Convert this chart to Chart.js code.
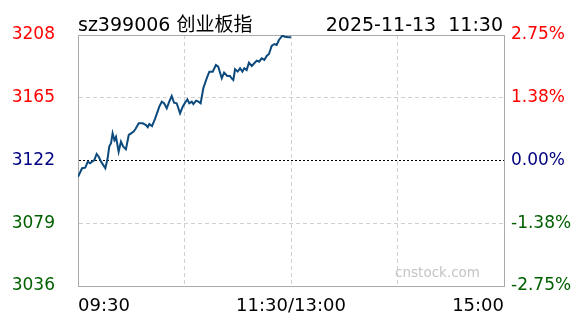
<!DOCTYPE html>
<html>
<head>
<meta charset="utf-8">
<script src="https://cdn.jsdelivr.net/npm/chart.js@4/dist/chart.umd.min.js"></script>
<style>
  html, body { margin: 0; padding: 0; background: #fff; }
  #box { width: 588px; height: 324px; }
</style>
</head>
<body>
<div id="box"><canvas id="Trend"></canvas></div>
<script>
var Minutes = [0, 2.3, 4.1, 5.5, 6.8, 7.9, 9.2, 10.5, 11.7, 13, 15.4, 16.7, 17.6, 18.6, 19.5, 20.5, 21.4, 22.9,
	24.2, 25.5, 27, 28.6, 29.9, 31.2, 32.3, 34.2, 36.5, 38.3, 39.3, 40.2, 41.7, 43.5, 45.8, 47.2, 48.5, 50,
	51.4, 52.8, 54.1, 55.6, 57.5, 59, 60.3, 61.6, 62.7, 64.1, 65, 66.5, 67.8, 69.1, 70.6, 72.5, 74, 75.9,
	77.7, 79, 81, 82.3, 84.1, 85.6, 86.6, 87.5, 88.5, 90, 91.3, 92.6, 93.7, 95, 96.3, 97.9, 99.3, 100.7,
	102, 103.5, 105, 106.3, 107.6, 109.1, 110.6, 111.9, 113.2, 115.1, 116.6, 118.5, 120];
var Prices = [3110.9, 3116.7, 3117.1, 3121.2, 3120.1, 3121.2, 3122.3, 3126.5, 3124.6, 3121.2, 3116.7, 3123.5,
	3131.5, 3133.8, 3140.6, 3136.0, 3138.3, 3128.0, 3134.9, 3131.5, 3129.7, 3139.5, 3140.6, 3141.7, 3143.4,
	3147.5, 3147.5, 3146.3, 3144.8, 3147.0, 3145.6, 3150.9, 3158.9, 3162.3, 3161.2, 3157.8, 3162.3, 3166.2,
	3161.6, 3161.2, 3154.3, 3158.9, 3161.6, 3163.9, 3161.2, 3162.3, 3160.7, 3163.0, 3162.3, 3161.2, 3171.5,
	3178.3, 3182.9, 3182.9, 3187.4, 3186.3, 3178.3, 3182.2, 3179.9, 3179.9, 3178.3, 3177.2, 3184.5, 3182.9,
	3185.2, 3182.9, 3185.2, 3184.0, 3189.0, 3186.8, 3188.6, 3190.4, 3189.7, 3192.0, 3190.9, 3193.6, 3195.0,
	3200.5, 3201.8, 3201.2, 3204.6, 3207.5, 3206.8, 3206.4, 3206.4];
var PriceTicks = [3036, 3079, 3122, 3165, 3208];
var PctLabels = ["-2.75%", "-1.38%", "0.00%", "1.38%", "2.75%"];
var TimeTicks = [0, 60, 120, 180, 240];
var TimeLabels = ["09:30", "", "11:30/13:00", "", "15:00"];
var TitleLeft = "sz399006 创业板指";
var TitleRight = "2025-11-13  11:30";
var Mark = "cnstock.com";

var FONT = "'DejaVu Sans', 'Noto Sans CJK SC', sans-serif";
var tickColors = ["#006000", "#006000", "#000080", "#ff0000", "#ff0000"];
var EDGE = "#aaaaaa";
var GRID = "#d0d0d0";

var pts = [];
for (var i = 0; i < Minutes.length; i++) {
	pts.push({x: Minutes[i], y: Prices[i]});
}

function gridColor(ctx) {
	var i = ctx.index;
	if (i == 0) return "rgba(0,0,0,0)";
	if (i == 4) return EDGE;
	if (i == 2) return "#000000";
	return GRID;
}

// title, date and watermark
var texts = {
	id: "texts",
	afterDraw: function(chart) {
		var c = chart.ctx;
		c.save();
		c.fillStyle = "#000";
		c.font = "19px " + FONT;
		c.textBaseline = "alphabetic";
		c.textAlign = "left";
		c.fillText(TitleLeft, chart.chartArea.left, 31);
		c.textAlign = "right";
		c.fillText(TitleRight, chart.chartArea.right - 1, 31);
		c.fillStyle = "#c4c4c4";
		c.font = "13.5px " + FONT;
		c.fillText(Mark, 480, 277);
		c.restore();
	}
};

var Trend = document.getElementById("Trend").getContext("2d");
var TrendChart = new Chart(Trend, {
	type: "line",
	data: {
		datasets: [{
			data: pts,
			borderColor: "#0c4a7d",
			borderWidth: 2,
			pointRadius: 0,
			tension: 0,
			fill: false
		}]
	},
	options: {
		responsive: true,
		maintainAspectRatio: false,
		animation: false,
		events: [],
		layout: { padding: { top: 35, left: 0, right: 0, bottom: 0 } },
		plugins: { legend: { display: false }, tooltip: { enabled: false } },
		scales: {
			x: {
				type: "linear",
				min: 0,
				max: 240,
				afterBuildTicks: function(s) { s.ticks = TimeTicks.map(function(v) { return {value: v}; }); },
				afterFit: function(s) { s.height = 38; },
				ticks: {
					autoSkip: false,
					maxRotation: 0,
					align: "inner",
					padding: 10,
					color: "#000",
					font: { family: FONT, size: 18 },
					callback: function(v, i) { return TimeLabels[i]; }
				},
				grid: {
					drawTicks: false,
					color: function(ctx) { return (ctx.index == 0 || ctx.index == 4) ? "rgba(0,0,0,0)" : GRID; }
				},
				border: { display: true, color: EDGE, dash: [4, 3] }
			},
			y: {
				position: "left",
				min: 3036,
				max: 3208,
				afterBuildTicks: function(s) { s.ticks = PriceTicks.map(function(v) { return {value: v}; }); },
				afterFit: function(s) { s.width = 78; },
				ticks: {
					padding: 23,
					font: { family: FONT, size: 17 },
					color: function(ctx) { return tickColors[ctx.index]; },
					callback: function(v) { return String(v); }
				},
				grid: { drawTicks: false, color: gridColor },
				border: {
					display: true,
					color: EDGE,
					dash: function(ctx) {
						if (ctx.index == 2) return [2, 2];
						if (ctx.index == 4) return [];
						return [4, 3];
					}
				}
			},
			y2: {
				position: "right",
				min: 3036,
				max: 3208,
				afterBuildTicks: function(s) { s.ticks = PriceTicks.map(function(v) { return {value: v}; }); },
				afterFit: function(s) { s.width = 84; },
				ticks: {
					padding: 7,
					font: { family: FONT, size: 17 },
					color: function(ctx) { return tickColors[ctx.index]; },
					callback: function(v, i) { return PctLabels[i]; }
				},
				grid: { drawTicks: false, drawOnChartArea: false },
				border: { display: true, color: EDGE }
			}
		}
	},
	plugins: [texts]
});
</script>
</body>
</html>
